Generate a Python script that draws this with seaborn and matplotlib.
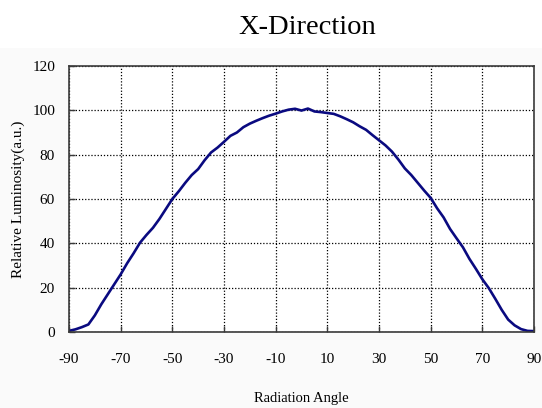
import matplotlib
matplotlib.use("Agg")
import matplotlib.pyplot as plt
import seaborn as sns
import pandas as pd
from matplotlib.patches import Rectangle

# Measured radiation profile along the X direction
angles = [-90, -87.5, -85, -82.5, -80, -77.5, -75, -72.5, -70, -67.5, -65, -62.5,
          -60, -57.5, -55, -52.5, -50, -47.5, -45, -42.5, -40, -37.5, -35, -32.5,
          -30, -27.5, -25, -22.5, -20, -17.5, -15, -12.5, -10, -7.5, -5, -2.5,
          0, 2.5, 5, 7.5, 10, 12.5, 15, 17.5, 20, 22.5, 25, 27.5,
          30, 32.5, 35, 37.5, 40, 42.5, 45, 47.5, 50, 52.5, 55, 57.5,
          60, 62.5, 65, 67.5, 70, 72.5, 75, 77.5, 80, 82.5, 85, 87.5, 90]
luminosity = [0.5, 1.2, 2.2, 3.4, 7.5, 12.5, 17.0, 21.5, 26.0, 31.0, 35.5, 40.3,
              43.8, 47.0, 51.0, 55.5, 60.0, 63.5, 67.3, 70.8, 73.5, 77.5, 81.0, 83.2,
              85.8, 88.5, 90.0, 92.4, 94.0, 95.3, 96.5, 97.6, 98.5, 99.5, 100.3, 100.7,
              99.9, 100.8, 99.5, 99.2, 98.8, 98.4, 97.3, 96.0, 94.6, 92.8, 91.2, 88.8,
              86.5, 84.2, 81.4, 77.8, 73.8, 70.8, 67.3, 63.8, 60.5, 55.8, 51.7, 46.5,
              42.3, 38.2, 33.0, 28.5, 23.8, 19.8, 15.0, 10.0, 5.6, 3.0, 1.3, 0.5, 0.4]

x_ticks = [-90, -70, -50, -30, -10, 10, 30, 50, 70, 90]
y_ticks = [0, 20, 40, 60, 80, 100, 120]

df = pd.DataFrame({"angle": angles, "lum": luminosity})

sns.set_style("white")
plt.rcParams["font.family"] = ["Liberation Serif", "DejaVu Serif"]
plt.rcParams["text.color"] = "black"
plt.rcParams["axes.labelcolor"] = "black"
plt.rcParams["xtick.color"] = "black"
plt.rcParams["ytick.color"] = "black"

fig = plt.figure(figsize=(5.42, 4.08), dpi=100)
fig.patch.set_facecolor("white")
fig.patches.append(Rectangle((0, 0), 1, 1 - 48 / 408, transform=fig.transFigure,
                             facecolor="#fafafa", edgecolor="none", zorder=-10))

ax = fig.add_axes([69 / 542, 1 - 332 / 408, (534 - 69) / 542, (332 - 66) / 408])
ax.set_facecolor("white")

sns.lineplot(data=df, x="angle", y="lum", ax=ax, color="#0a0a80", linewidth=1.9)

ax.set_xlim(-90, 90)
ax.set_ylim(0, 120)
ax.set_xticks(x_ticks)
ax.set_yticks(y_ticks)
ax.set_xticklabels([str(t) for t in x_ticks])
ax.set_yticklabels([str(t) for t in y_ticks])

ax.grid(True, color="black", linestyle=(0, (1, 1.5)), linewidth=0.9)
ax.set_axisbelow(True)
for s in ax.spines.values():
    s.set_color("#3a3a3a")
    s.set_linewidth(1.2)
    s.set_visible(True)

ax.tick_params(axis="x", direction="in", length=4, width=1.0, color="#3a3a3a",
               labelcolor="black", pad=15, labelsize=11, bottom=True)
ax.tick_params(axis="y", direction="in", length=4, width=1.0, color="#3a3a3a",
               labelcolor="black", pad=10, labelsize=11, left=True)

ax.set_xlabel("Radiation Angle", fontsize=10.5, labelpad=19)
ax.set_ylabel("Relative Luminosity(a.u.)", fontsize=11, labelpad=5)

fig.text(307 / 542, 1 - 27 / 408, "X-Direction", ha="center", va="center",
         fontsize=20.5, color="black", family=["Liberation Serif", "DejaVu Serif"])

fig.savefig("out.png", dpi=100)
